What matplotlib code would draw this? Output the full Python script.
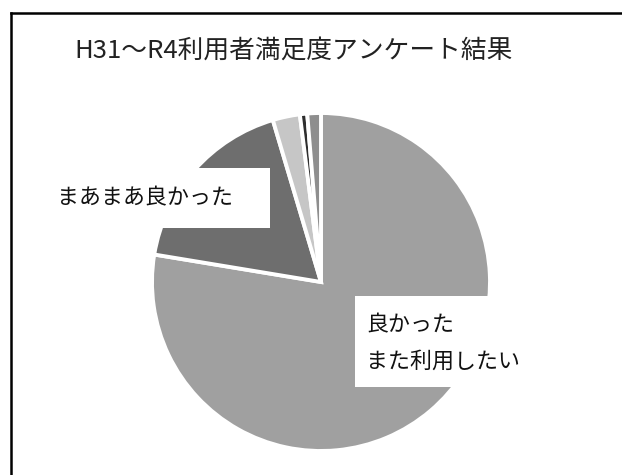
import matplotlib
matplotlib.use("Agg")
import matplotlib.pyplot as plt
from matplotlib.patches import Rectangle
from matplotlib.lines import Line2D

plt.rcParams['font.family'] = ['Noto Sans CJK JP', 'DejaVu Sans']

# Data (percent), clockwise from 12 o'clock
categories = ["良かった\nまた利用したい", "まあまあ良かった", "普通", "あまり良くなかった", "その他"]
shares = [77.6, 17.8, 2.6, 0.7, 1.3]
colors = ["#a0a0a0", "#6e6e6e", "#c6c6c6", "#2e2e2e", "#8e8e8e"]
title = "H31～R4利用者満足度アンケート結果"

W, H = 622, 475
fig = plt.figure(figsize=(W / 100, H / 100), dpi=100)

# outer frame of the scanned chart
fig.add_artist(Line2D([11 / W, 11 / W], [0, 1 - 13 / H], color="black", lw=1.8))
fig.add_artist(Line2D([11 / W, 1], [1 - 13 / H, 1 - 13 / H], color="black", lw=1.8))

fig.text(294 / W, 1 - 51 / H, title, ha="center", va="center", fontsize=18.5, color="#222222")

# pie placed by its centre (321, 282) and radius 169 px
cx, cy, r = 321, 282, 169
ax = fig.add_axes([(cx - r) / W, (H - cy - r) / H, 2 * r / W, 2 * r / H])
ax.pie(shares, colors=colors, startangle=90, counterclock=False,
       wedgeprops=dict(edgecolor="white", linewidth=2.8))
ax.set_xlim(-1, 1)
ax.set_ylim(-1, 1)
ax.set_aspect("equal")
ax.axis("off")


def px(x, y):
    return (x - cx) / r, (cy - y) / r


# label boxes (white, covering the pie)
x0, y0 = px(45, 228)
x1, y1 = px(270, 168)
ax.add_patch(Rectangle((x0, y0), x1 - x0, y1 - y0, facecolor="white", edgecolor="none", clip_on=False, zorder=3))
tx, ty = px(57, 198)
ax.text(tx, ty, categories[1], ha="left", va="center", fontsize=15.8, color="#111111", zorder=4)

x0, y0 = px(355, 387)
x1, y1 = px(490, 296)
ax.add_patch(Rectangle((x0, y0), x1 - x0, y1 - y0, facecolor="white", edgecolor="none", clip_on=False, zorder=3))
line1, line2 = categories[0].split("\n")
tx, ty = px(366, 325)
ax.text(tx, ty, line1, ha="left", va="center", fontsize=15.8, color="#111111", zorder=4)
tx, ty = px(366, 362)
ax.text(tx, ty, line2, ha="left", va="center", fontsize=15.8, color="#111111", zorder=4)

plt.savefig("out.png", dpi=100)
plt.close(fig)
